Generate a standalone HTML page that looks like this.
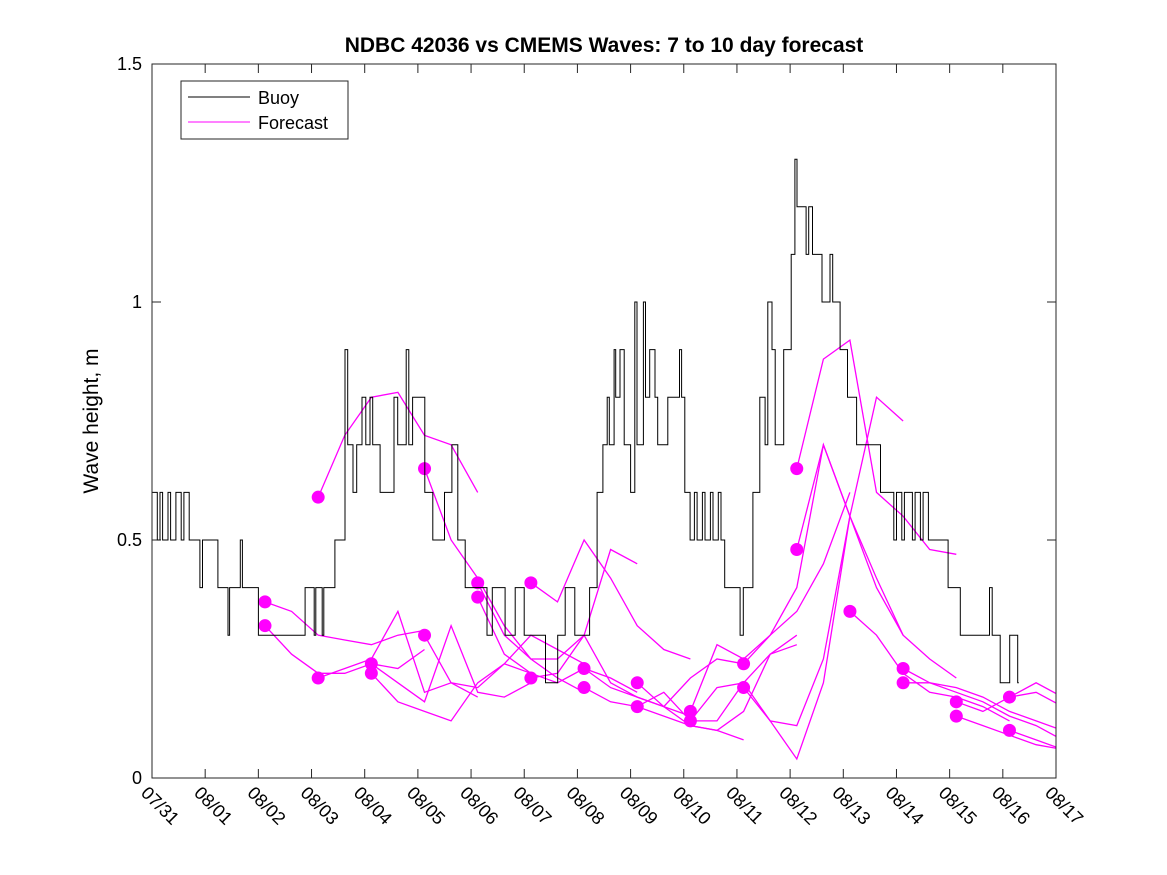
<!DOCTYPE html>
<html><head><meta charset="utf-8"><style>
html,body{margin:0;padding:0;background:#fff;}
svg{display:block;font-family:"Liberation Sans",sans-serif;}
</style></head><body>
<svg id="chart" width="1167" height="875" viewBox="0 0 1167 875">
<defs><clipPath id="plotclip"><rect x="152" y="64" width="904" height="714"/></clipPath></defs>
<rect x="0" y="0" width="1167" height="875" fill="#fff"/>
<text x="604" y="52" text-anchor="middle" font-size="21" font-weight="bold">NDBC 42036 vs CMEMS Waves: 7 to 10 day forecast</text>
<text transform="translate(98,421) rotate(-90)" text-anchor="middle" font-size="21">Wave height, m</text>
<g id="axes"></g>
<g id="forecasts" clip-path="url(#plotclip)"></g>
<g id="buoy" clip-path="url(#plotclip)"></g>
<rect x="152" y="64" width="904" height="714" fill="none" stroke="#262626" stroke-width="1"/>
<g>
<rect x="181" y="81" width="167" height="58" fill="#fff" stroke="#262626" stroke-width="1"/>
<line x1="188" y1="97" x2="250" y2="97" stroke="#000" stroke-width="1"/>
<text x="258" y="104" font-size="18">Buoy</text>
<line x1="188" y1="122" x2="250" y2="122" stroke="#ff00ff" stroke-width="1"/>
<text x="258" y="129" font-size="18">Forecast</text>
</g>
</svg>
<script>
const xTickLabels=["07/31","08/01","08/02","08/03","08/04","08/05","08/06","08/07","08/08","08/09","08/10","08/11","08/12","08/13","08/14","08/15","08/16","08/17"];
const yTicks=[0,0.5,1,1.5];
const yTickLabels=["0","0.5","1","1.5"];
const buoyDays=[0,0.1,0.15,0.2,0.3,0.35,0.45,0.55,0.6,0.7,0.9,0.95,1.24,1.43,1.46,1.66,1.7,2.0,2.88,3.05,3.08,3.2,3.23,3.44,3.63,3.68,3.78,3.85,3.95,4.02,4.1,4.15,4.29,4.55,4.62,4.78,4.83,4.9,5.13,5.28,5.5,5.64,5.75,5.89,6.3,6.4,6.64,6.83,7.0,7.4,7.63,7.77,7.95,8.23,8.37,8.48,8.56,8.6,8.69,8.72,8.8,8.88,9.0,9.08,9.12,9.24,9.28,9.36,9.46,9.51,9.7,9.92,9.96,10.02,10.12,10.2,10.25,10.35,10.4,10.5,10.55,10.65,10.7,10.77,11.06,11.12,11.3,11.43,11.53,11.58,11.66,11.72,11.88,12.02,12.09,12.13,12.3,12.35,12.42,12.6,12.75,12.8,12.94,13.08,13.25,13.7,13.95,14.0,14.1,14.15,14.3,14.35,14.45,14.5,14.6,14.97,15.2,15.75,15.8,15.95,16.13,16.28,16.3];
const buoyHeights=[0.6,0.5,0.6,0.5,0.6,0.5,0.6,0.5,0.6,0.5,0.4,0.5,0.4,0.3,0.4,0.5,0.4,0.3,0.4,0.3,0.4,0.3,0.4,0.5,0.9,0.7,0.6,0.7,0.8,0.7,0.8,0.7,0.6,0.8,0.7,0.9,0.7,0.8,0.6,0.5,0.6,0.7,0.5,0.4,0.3,0.4,0.3,0.4,0.3,0.2,0.3,0.4,0.3,0.4,0.6,0.7,0.8,0.7,0.9,0.8,0.9,0.7,0.6,1.0,0.7,1.0,0.8,0.9,0.8,0.7,0.8,0.9,0.8,0.6,0.5,0.6,0.5,0.6,0.5,0.6,0.5,0.6,0.5,0.4,0.3,0.4,0.6,0.8,0.7,1.0,0.9,0.7,0.9,1.1,1.3,1.2,1.1,1.2,1.1,1.0,1.1,1.0,0.9,0.8,0.7,0.6,0.5,0.6,0.5,0.6,0.5,0.6,0.5,0.6,0.5,0.4,0.3,0.4,0.3,0.2,0.3,0.2,0.2];
const forecastStarts=[2.125,2.125,3.125,3.125,4.125,4.125,5.125,5.125,6.125,6.125,7.125,7.125,8.125,8.125,9.125,9.125,10.125,10.125,11.125,11.125,12.125,12.125,13.125,14.125,14.125,15.125,15.125,16.125,16.125];
const forecastStep=0.5;
const forecastValues=[
[0.37,0.35,0.30,0.29,0.28,0.30,0.31],
[0.32,0.26,0.22,0.22,0.24,0.23,0.27],
[0.59,0.72,0.80,0.81,0.72,0.70,0.60],
[0.21,0.23,0.25,0.35,0.18,0.20,0.17],
[0.24,0.20,0.16,0.32,0.18,0.17,0.20],
[0.22,0.16,0.14,0.12,0.20,0.24,0.22],
[0.65,0.50,0.42,0.32,0.25,0.21,0.18],
[0.30,0.20,0.19,0.24,0.30,0.27,0.24],
[0.41,0.30,0.25,0.25,0.30,0.48,0.45],
[0.38,0.26,0.22,0.20,0.23,0.21,0.18],
[0.41,0.37,0.50,0.42,0.32,0.27,0.25],
[0.21,0.22,0.30,0.20,0.17,0.15,0.13],
[0.23,0.19,0.17,0.15,0.21,0.25,0.24],
[0.19,0.16,0.15,0.13,0.11,0.10,0.08],
[0.20,0.15,0.11,0.10,0.14,0.26,0.30],
[0.15,0.18,0.12,0.12,0.20,0.26,0.28],
[0.14,0.28,0.25,0.30,0.35,0.45,0.60],
[0.12,0.19,0.20,0.12,0.11,0.25,0.55],
[0.24,0.30,0.40,0.70,0.55,0.40,0.30],
[0.19,0.12,0.04,0.20,0.55,0.80,0.75],
[0.65,0.88,0.92,0.60,0.55,0.48,0.47],
[0.48,0.70,0.55,0.42,0.30,0.25,0.21],
[0.35,0.30,0.22,0.18,0.17,0.15,0.12],
[0.23,0.20,0.19,0.17,0.14,0.12,0.10],
[0.20,0.20,0.18,0.16,0.13,0.11,0.08],
[0.16,0.14,0.17,0.20,0.17,0.15],
[0.13,0.11,0.09,0.07,0.06,0.05],
[0.17,0.18,0.15,0.14],
[0.10,0.08,0.06,0.05]];

const NS="http://www.w3.org/2000/svg";
const X0=152,X1=1056,Y0=778,Y1=64,DMAX=17,VMAX=1.5;
function xs(d){return X0+(X1-X0)*d/DMAX;}
function ys(v){return Y0-(Y0-Y1)*v/VMAX;}
function mk(tag,attrs,parent){const e=document.createElementNS(NS,tag);for(const k in attrs)e.setAttribute(k,attrs[k]);parent.appendChild(e);return e;}

const axes=document.getElementById('axes');
xTickLabels.forEach((lab,i)=>{
  const x=xs(i);
  const t1=mk('line',{x1:x,y1:Y0,x2:x,y2:Y0-9,stroke:'#262626'},axes);
  
  
  const t2=mk('line',{x1:x,y1:Y1,x2:x,y2:Y1+9,stroke:'#262626'},axes);
  
  
  const tx=mk('text',{x:0,y:0,'font-size':18,transform:`translate(${x-12},${Y0+16}) rotate(45)`},axes);
  tx.textContent=lab;
  
  
});
yTicks.forEach((v,i)=>{
  const y=ys(v);
  const t1=mk('line',{x1:X0,y1:y,x2:X0+9,y2:y,stroke:'#262626'},axes);
  
  
  const t2=mk('line',{x1:X1,y1:y,x2:X1-9,y2:y,stroke:'#262626'},axes);
  
  
  const tx=mk('text',{x:X0-10,y:y+6,'font-size':18,'text-anchor':'end'},axes);
  tx.textContent=yTickLabels[i];
  
  
});

const fg=document.getElementById('forecasts');
forecastValues.forEach((vals,k)=>{
  const s=forecastStarts[k];
  const pts=vals.map((v,j)=>xs(s+j*forecastStep).toFixed(1)+','+ys(v).toFixed(1)).join(' ');
  const pl=mk('polyline',{points:pts,fill:'none',stroke:'#ff00ff','stroke-width':1.3},fg);
  
  
});
forecastValues.forEach((vals,k)=>{
  const c=mk('circle',{cx:xs(forecastStarts[k]),cy:ys(vals[0]),r:6.5,fill:'#ff00ff'},fg);
  
  
});

const bg=document.getElementById('buoy');
let d='';
for(let i=0;i<buoyDays.length;i++){
  const x=xs(buoyDays[i]).toFixed(1),y=ys(buoyHeights[i]).toFixed(1);
  if(i===0)d+=`M${x},${y}`;else d+=`H${x}V${y}`;
}
const bp=mk('path',{d:d,fill:'none',stroke:'#000','stroke-width':1},bg);


</script>
</body></html>
